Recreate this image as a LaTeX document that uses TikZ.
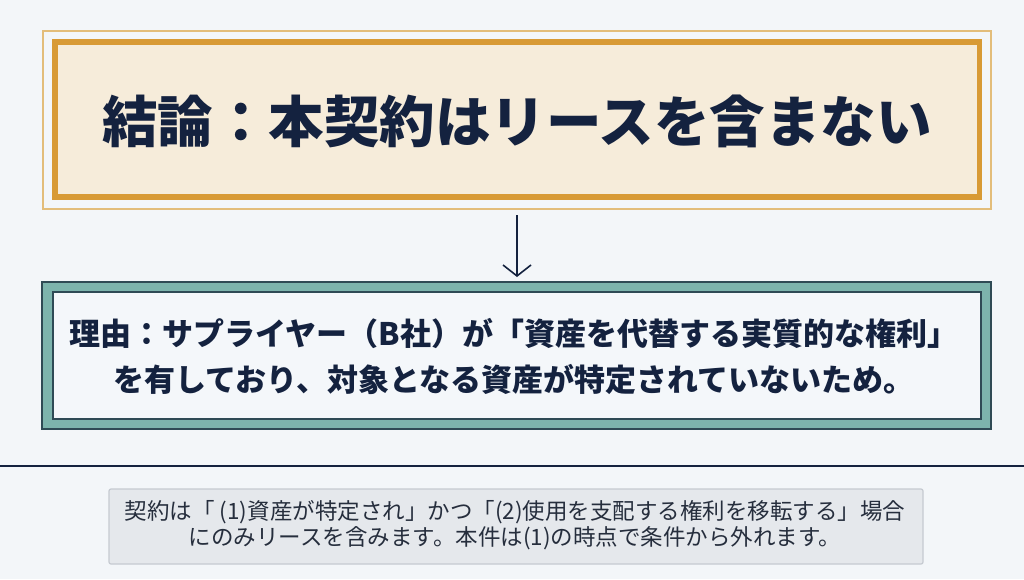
\documentclass[tikz,border=0pt]{standalone}
\usepackage{fontspec}
\setmainfont{Noto Sans CJK JP}
\newfontfamily\cjk{Noto Sans CJK JP}
\usetikzlibrary{arrows.meta}
\definecolor{bgc}{HTML}{F3F6F9}
\definecolor{navy}{HTML}{14223F}
\definecolor{cream}{HTML}{F6ECDA}
\definecolor{gold}{HTML}{D89A35}
\definecolor{goldlight}{HTML}{E3BD7A}
\definecolor{teal}{HTML}{7DB4AD}
\definecolor{tealdark}{HTML}{2F4A55}
\definecolor{innerw}{HTML}{F4F7FA}
\definecolor{graybox}{HTML}{E5E8EC}
\definecolor{grayline}{HTML}{C5CAD1}
\definecolor{graytext}{HTML}{262E3D}
\tikzset{
  titletext/.style={text=navy, font=\cjk\bfseries\fontsize{55.5}{60}\selectfont, inner sep=0pt},
  reasontext/.style={text=navy, font=\cjk\bfseries\fontsize{31}{46}\selectfont, align=center, inner sep=0pt},
  notetext/.style={text=graytext, font=\cjk\fontsize{22.5}{26}\selectfont, align=center, inner sep=0pt},
  flowarrow/.style={draw=navy, line width=1.6pt, -{Straight Barb[length=11pt,width=28pt,line width=1.6pt]}}
}
\begin{document}
\begin{tikzpicture}[x=1pt,y=-1pt]
\useasboundingbox (0,0) rectangle (1024,579);
\fill[bgc] (0,0) rectangle (1024,579);
% conclusion box
\draw[goldlight, line width=1.5pt] (43,31) rectangle (991,209);
\draw[gold, fill=cream, line width=5.5pt] (55,42) rectangle (979.5,197);
\node[titletext] (title) at (517,121) {結論：本契約はリースを含まない};
\coordinate (titlebot) at (517,215);
% reason box
\draw[tealdark, fill=teal, line width=1.3pt] (42,282) rectangle (991,429);
\draw[tealdark, fill=innerw, line width=1.3pt] (53,292) rectangle (981,419);
\coordinate (reasontop) at (517,277);
\node[reasontext] (reason) at (514,356) {理由：サプライヤー（B社）が「資産を代替する実質的な権利」\\を有しており、対象となる資産が特定されていないため。};
\draw[flowarrow] (titlebot) -- (reasontop);
% separator
\draw[navy, line width=1.4pt] (0,466) -- (1024,466);
% note box
\draw[grayline, fill=graybox, line width=1.2pt, rounded corners=2pt] (109,489) rectangle (923,564);
\node[notetext] (note) at (515,525) {契約は「 (1)資産が特定され」かつ「(2)使用を支配する権利を移転する」場合\\にのみリースを含みます。本件は(1)の時点で条件から外れます。};
\end{tikzpicture}
\end{document}
